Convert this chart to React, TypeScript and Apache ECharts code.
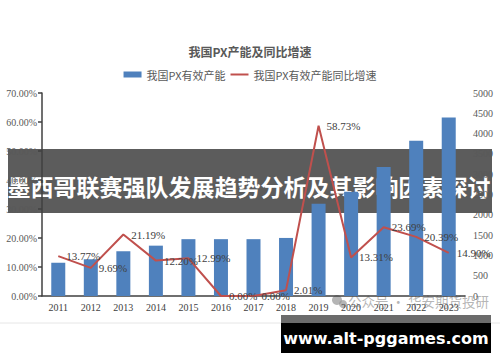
import React, { useEffect, useRef } from "react";
import * as echarts from "echarts";

const years = ["2011", "2012", "2013", "2014", "2015", "2016", "2017", "2018", "2019", "2020", "2021", "2022", "2023"];
const capacity = [820, 905, 1100, 1240, 1400, 1400, 1400, 1430, 2270, 2570, 3180, 3825, 4395];
const growth = [13.77, 9.69, 21.19, 12.2, 12.99, 0.0, 0.0, 2.01, 58.73, 13.31, 23.69, 20.39, 14.9];
const titleText = "我国PX产能及同比增速";
const barName = "我国PX有效产能";
const lineName = "我国PX有效产能同比增速";
const bannerText = "墨西哥联赛强队发展趋势分析及其影响因素探讨";
const siteText = "www.alt-pggames.com";
const watermarkText = "公众号 · 华安期货投研";

const serif = "'Liberation Serif', 'DejaVu Serif', serif";
const cjk = "'Noto Sans CJK SC', sans-serif";

export default function App() {
  const ref = useRef<HTMLDivElement>(null);
  useEffect(() => {
    if (!ref.current) return;
    const chart = echarts.init(ref.current, null, { renderer: "svg" });
    chart.setOption({
      animation: false,
      backgroundColor: "#ffffff",
      title: {
        text: titleText,
        left: "center",
        top: 40,
        textStyle: { fontFamily: cjk, fontSize: 12, fontWeight: "bold", color: "#595959" },
      },
      legend: {
        top: 64,
        left: "center",
        itemWidth: 18,
        itemHeight: 6,
        itemGap: 4,
        textStyle: { fontFamily: cjk, fontSize: 11, color: "#595959" },
        data: [
          { name: barName, icon: "rect" },
          { name: lineName },
        ],
      },
      grid: { left: 42, right: 35, top: 93, bottom: 66 },
      xAxis: {
        type: "category",
        data: years,
        axisLine: { lineStyle: { color: "#404040", width: 1.5 } },
        axisTick: { show: false },
        axisLabel: { fontFamily: serif, fontSize: 10, color: "#404040", margin: 6 },
      },
      yAxis: [
        {
          type: "value",
          min: 0,
          max: 70,
          interval: 10,
          axisLine: { show: true, lineStyle: { color: "#404040", width: 1.5 } },
          axisTick: { show: true, length: 4, lineStyle: { color: "#404040", width: 1.5 } },
          splitLine: { show: false },
          axisLabel: {
            fontFamily: serif,
            fontSize: 10,
            color: "#595959",
            margin: 5,
            formatter: (v: number) => v.toFixed(2) + "%",
          },
        },
        {
          type: "value",
          min: 0,
          max: 5000,
          interval: 500,
          position: "right",
          axisLine: { show: false },
          axisTick: { show: false },
          splitLine: { show: false },
          axisLabel: {
            fontFamily: serif,
            fontSize: 10,
            color: "#595959",
            margin: 8,
            align: "left",
            formatter: (v: number) => String(v),
          },
        },
      ],
      series: [
        {
          name: barName,
          type: "bar",
          yAxisIndex: 1,
          data: capacity,
          barWidth: 14,
          itemStyle: { color: "#4f81bd" },
          z: 2,
        },
        {
          name: lineName,
          type: "line",
          yAxisIndex: 0,
          data: growth,
          symbol: "circle",
          symbolSize: 2,
          showSymbol: true,
          lineStyle: { color: "#c0504d", width: 2 },
          itemStyle: { color: "rgba(0,0,0,0)" },
          label: {
            show: true,
            position: "right",
            distance: 7,
            fontFamily: serif,
            fontSize: 11,
            color: "#404040",
            formatter: (p: any) => Number(p.value).toFixed(2) + "%",
          },
          z: 3,
        },
      ],
      graphic: [
        {
          type: "group",
          z: 100,
          children: [
            {
              type: "text",
              x: 348,
              y: 301,
              style: {
                text: watermarkText,
                fontFamily: cjk,
                fontSize: 13.5,
                fill: "rgba(150,150,150,0.7)",
                verticalAlign: "middle",
                align: "left",
              },
            },
            { type: "circle", shape: { cx: 337, cy: 300, r: 5 }, style: { fill: "rgba(150,150,150,0.7)" } },
            { type: "circle", shape: { cx: 343, cy: 304, r: 4 }, style: { fill: "rgba(150,150,150,0.7)" } },
            {
              type: "line",
              shape: { x1: 0, y1: 323, x2: 500, y2: 323 },
              style: { stroke: "#e6e6e6", lineWidth: 1 },
            },
            {
              type: "rect",
              shape: { x: 8, y: 149, width: 484, height: 64 },
              style: { fill: "rgba(0,0,0,0.64)" },
            },
            {
              type: "text",
              x: 249,
              y: 186,
              style: {
                text: bannerText,
                fontFamily: cjk,
                fontWeight: "bold",
                fontSize: 23,
                fill: "#ffffff",
                align: "center",
                verticalAlign: "middle",
              },
            },
            {
              type: "rect",
              shape: { x: 281, y: 315, width: 210, height: 8 },
              style: { fill: "#6b6b6b" },
            },
            {
              type: "rect",
              shape: { x: 281, y: 323, width: 210, height: 30 },
              style: { fill: "#000000" },
            },
            {
              type: "text",
              x: 386,
              y: 338,
              style: {
                text: siteText,
                fontFamily: "'DejaVu Sans', sans-serif",
                fontWeight: "bold",
                fontSize: 16,
                fill: "#ffffff",
                align: "center",
                verticalAlign: "middle",
              },
            },
          ],
        },
      ],
    });
    return () => chart.dispose();
  }, []);
  return (
    <div
      ref={ref}
      style={{ position: "fixed", left: 0, top: 0, width: 500, height: 362, background: "#fff" }}
    />
  );
}
